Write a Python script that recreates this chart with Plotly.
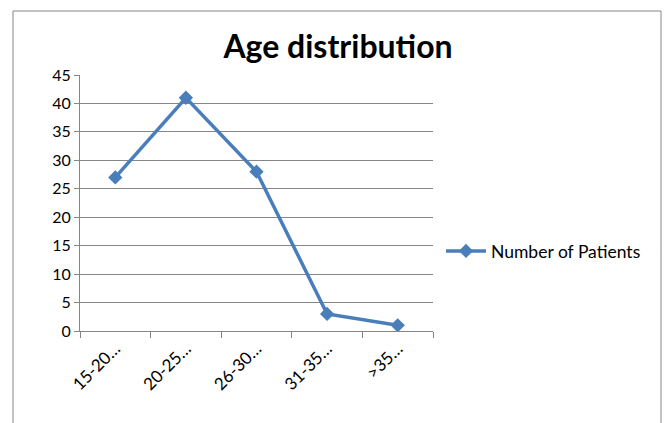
import plotly.graph_objects as go

categories = ["15-20…", "20-25…", "26-30…", "31-35…", ">35…"]
patients = [27, 41, 28, 3, 1]
series_name = "Number of Patients"

L, R, T, B = 80, 433, 75, 331
W, H = 666, 423
pw, ph = R - L, B - T

def px(x):
    return (x - L) / pw

def py(y):
    return (B - y) / ph

fig = go.Figure()
fig.add_trace(go.Scatter(
    x=categories, y=patients, mode="lines+markers", name=series_name,
    line=dict(color="#4a7ebb", width=3.5),
    marker=dict(symbol="diamond", size=11, color="#4a7ebb"),
))

font = "Lato, Open Sans, sans-serif"
fig.update_layout(
    width=W, height=H,
    margin=dict(l=L, r=W - R, t=T, b=H - B),
    paper_bgcolor="white", plot_bgcolor="white",
    font=dict(family=font, size=16, color="black"),
    title=dict(text="<b>Age distribution</b>", xref="container", x=338 / W, xanchor="center",
               yref="container", y=1 - 47 / H, yanchor="middle", font=dict(size=32, family=font)),
    showlegend=True,
    legend=dict(x=px(441), xanchor="left", y=py(251), yanchor="middle",
                font=dict(size=17.5), bgcolor="rgba(0,0,0,0)", itemwidth=40),
    xaxis=dict(showline=True, linecolor="#868686", linewidth=1,
               ticks="outside", ticklen=6, tickcolor="#868686", tickson="boundaries",
               tickangle=-45, showgrid=False, range=[-0.5, 4.5],
               tickfont=dict(size=17)),
    yaxis=dict(range=[0, 45], dtick=5, showline=True, linecolor="#868686", linewidth=1,
               ticks="outside", ticklen=5, tickcolor="#868686",
               showgrid=True, gridcolor="#868686", gridwidth=1, zeroline=False,
               tickfont=dict(size=16)),
    shapes=[dict(type="rect", xref="paper", yref="paper",
                 x0=px(13), x1=px(661), y0=py(430), y1=py(11),
                 line=dict(color="#868686", width=1), layer="below")],
)

fig.write_html("out.html")
